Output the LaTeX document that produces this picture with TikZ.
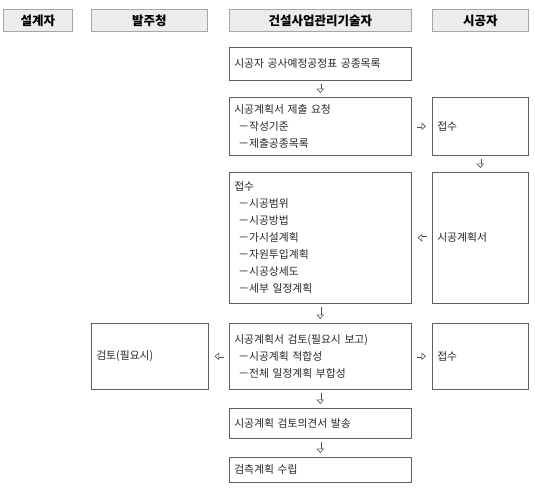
\documentclass[tikz,border=0pt]{standalone}
\usepackage{fontspec}
\newfontfamily\kr{Noto Sans CJK KR}
\usetikzlibrary{arrows.meta, positioning}
\newcommand{\dashitem}{\hspace*{4pt}－}

\begin{document}
\begin{tikzpicture}[
  x=1pt, y=-1pt,
  header/.style={draw=gray!70, fill=gray!15, line width=0.8pt, anchor=north west, minimum height=22pt, inner sep=0pt, font=\kr\bfseries\fontsize{12.5}{14}\selectfont},
  stepbox/.style={draw=gray!75!black, line width=0.6pt, anchor=north west, inner xsep=5pt, inner ysep=0pt, align=left, text=black!85, font=\kr\fontsize{10.8}{17}\selectfont},
  flow/.style={-{Triangle[open, length=4.5pt, width=7.5pt, line width=0.6pt]}, double=white, double distance=2pt, line width=0.6pt, draw=gray!60!black, shorten <=3.5pt, shorten >=4pt},
  sideflow/.style={flow, shorten <=5pt, shorten >=6pt},
]
  \useasboundingbox (0,0) rectangle (535,488);

  % Header row (one per role)
  \node[header, minimum width=69pt] (designer) at (3,9) {설계자};
  \node[header, minimum width=116pt] (owner) at (91,9) {발주청};
  \node[header, minimum width=182pt] (cm) at (229,9) {건설사업관리기술자};
  \node[header, minimum width=96pt] (builder) at (432,9) {시공자};

  % Submission request
  \node[stepbox, text width=172pt, minimum height=33pt] (sched) at (229,47) {시공자 공사예정공정표 공종목록};
  \node[stepbox, text width=172pt, minimum height=58pt] (request) at (229,97) {시공계획서 제출 요청\\ \dashitem 작성기준\\ \dashitem 제출공종목록};
  \node[stepbox, text width=86pt, minimum height=58pt] (accept1) at (432,97) {접수};

  % Plan received
  \node[stepbox, text width=172pt, minimum height=131pt] (receive) at (229,172) {접수\\ \dashitem 시공범위\\ \dashitem 시공방법\\ \dashitem 가시설계획\\ \dashitem 자원투입계획\\ \dashitem 시공상세도\\ \dashitem 세부 일정계획};
  \node[stepbox, text width=86pt, minimum height=131pt] (planbook) at (432,172) {시공계획서};

  % Review row
  \node[stepbox, text width=107pt, minimum height=66pt] (ownerreview) at (91,323) {검토(필요시)};
  \node[stepbox, text width=172pt, minimum height=66pt] (reviewbox) at (229,323) {시공계획서 검토(필요시 보고)\\ \dashitem 시공계획 적합성\\ \dashitem 전체 일정계획 부합성};
  \node[stepbox, text width=86pt, minimum height=66pt] (accept2) at (432,323) {접수};

  % Closing steps
  \node[stepbox, text width=172pt, minimum height=30pt] (opinion) at (229,408) {시공계획 검토의견서 발송};
  \node[stepbox, text width=172pt, minimum height=25pt] (inspect) at (229,457) {검측계획 수립};

  % Flow arrows
  \draw[flow] (sched) -- (request);
  \draw[sideflow] (request) -- (accept1);
  \draw[flow] (accept1) -- (planbook);
  \draw[sideflow] (planbook) -- (receive);
  \draw[flow] (receive) -- (reviewbox);
  \draw[sideflow] (reviewbox) -- (ownerreview);
  \draw[sideflow] (reviewbox) -- (accept2);
  \draw[flow] (reviewbox) -- (opinion);
  \draw[flow] (opinion) -- (inspect);
\end{tikzpicture}
\end{document}
